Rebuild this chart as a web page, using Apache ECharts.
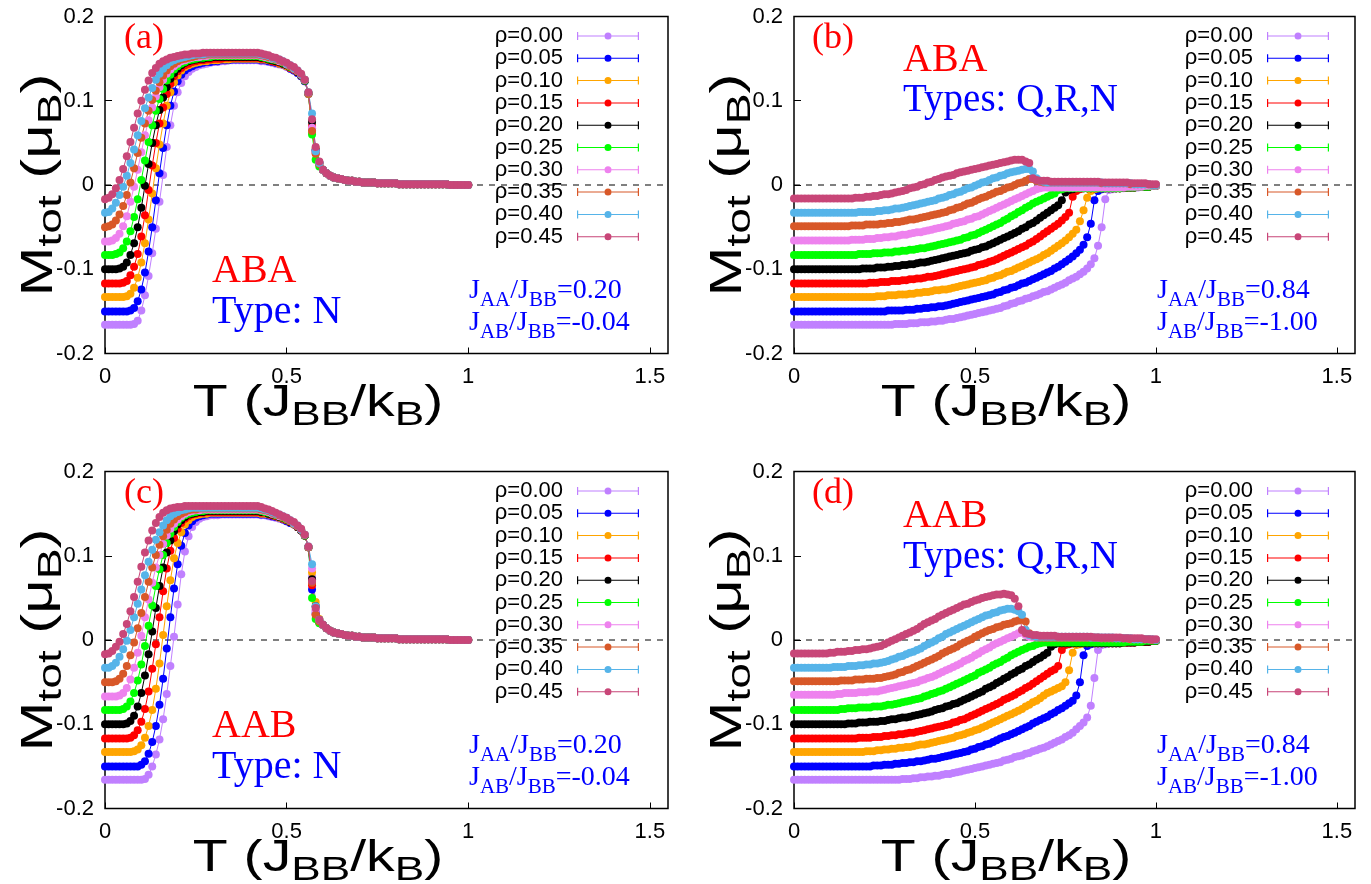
<!DOCTYPE html>
<html><head><meta charset="utf-8">
<script src="https://cdn.jsdelivr.net/npm/echarts@6/dist/echarts.min.js"></script>
<style>html,body{margin:0;padding:0;background:#fff}#c{width:1371px;height:884px}</style>
</head><body><div id="c"></div>
<script>
// ---- temperature grid T (J_BB/k_B) ----
const T = [
0,.01,.02,.03,.04,.05,.06,.07,.08,.09,
.10,.11,.12,.13,.14,.15,.16,.17,.18,.19,
.20,.21,.22,.23,.24,.25,.26,.27,.28,.29,
.30,.31,.32,.33,.34,.35,.36,.37,.38,.39,
.40,.41,.42,.43,.44,.45,.46,.47,.48,.49,
.50,.51,.52,.53,.54,.55,.56,.57,.58,.59,
.60,.61,.62,.63,.64,.65,.66,.67,.68,.69,
.70,.71,.72,.73,.74,.75,.76,.77,.78,.79,
.80,.81,.82,.83,.84,.85,.86,.87,.88,.89,
.90,.91,.92,.93,.94,.95,.96,.97,.98,.99,
1.00];
const rhoNames = ['ρ=0.00','ρ=0.05','ρ=0.10','ρ=0.15','ρ=0.20','ρ=0.25','ρ=0.30','ρ=0.35','ρ=0.40','ρ=0.45'];
const rhoColors = ['#c080ff','#0000ff','#ffa500','#ff0000','#000000','#00ff00','#ee82ee','#d85828','#56b4e9','#c84678'];
const xTicks = [0, 0.5, 1, 1.5];
const yTicks = [-0.2, -0.1, 0, 0.1, 0.2];

// ---- panel (a): ABA, Type N, T = 0.00 .. 0.59 ----
const a00 = [-.166,-.166,-.166,-.166,-.166,-.166,-.166,-.166,-.165,-.161,
-.149,-.131,-.108,-.081,-.052,-.020,.012,.045,.071,.094,
.110,.121,.129,.134,.138,.140,.142,.143,.144,.145,
.146,.146,.147,.147,.148,.148,.148,.148,.148,.148,
.148,.148,.148,.147,.147,.146,.145,.144,.143,.142,
.140,.138,.136,.133,.129,.123,.108,.065,.040,.026];
const a05 = [-.150,-.150,-.150,-.150,-.150,-.150,-.150,-.149,-.146,-.138,
-.124,-.104,-.079,-.050,-.018,.014,.044,.071,.094,.111,
.123,.131,.136,.139,.141,.143,.144,.145,.146,.146,
.147,.147,.148,.148,.148,.149,.149,.149,.149,.149,
.149,.149,.149,.148,.148,.147,.146,.145,.144,.143,
.141,.138,.136,.133,.129,.123,.108,.067,.042,.027];
const a10 = [-.133,-.133,-.133,-.133,-.133,-.133,-.132,-.129,-.122,-.110,
-.092,-.069,-.041,-.010,.020,.048,.073,.094,.110,.122,
.130,.136,.140,.142,.144,.145,.146,.147,.147,.148,
.148,.148,.149,.149,.149,.150,.150,.150,.150,.150,
.150,.150,.150,.149,.149,.148,.147,.146,.144,.143,
.141,.139,.137,.134,.130,.124,.108,.062,.044,.027];
const a15 = [-.117,-.117,-.117,-.117,-.117,-.116,-.114,-.107,-.097,-.082,
-.061,-.036,-.006,.023,.050,.073,.092,.108,.120,.129,
.135,.139,.142,.144,.146,.147,.148,.148,.149,.149,
.150,.150,.150,.151,.151,.151,.151,.151,.151,.151,
.151,.151,.151,.150,.150,.149,.147,.146,.145,.144,
.142,.139,.137,.134,.130,.124,.109,.070,.038,.025];
const a20 = [-.100,-.100,-.100,-.100,-.099,-.097,-.092,-.083,-.069,-.050,
-.027,-.001,.025,.050,.071,.089,.104,.116,.126,.133,
.138,.142,.145,.147,.148,.149,.150,.150,.151,.151,
.152,.152,.152,.152,.152,.152,.152,.152,.152,.152,
.152,.152,.152,.151,.151,.149,.148,.147,.146,.144,
.142,.140,.138,.134,.130,.124,.109,.075,.041,.026];
const a25 = [-.083,-.083,-.083,-.082,-.080,-.075,-.067,-.055,-.038,-.017,
.006,.029,.051,.071,.088,.102,.114,.124,.131,.137,
.141,.144,.146,.148,.149,.150,.151,.151,.152,.152,
.153,.153,.153,.153,.153,.153,.153,.153,.153,.153,
.153,.153,.153,.152,.151,.150,.149,.148,.147,.145,
.143,.140,.138,.135,.131,.124,.109,.060,.030,.022];
const a30 = [-.067,-.067,-.066,-.063,-.058,-.049,-.037,-.020,-.002,.018,
.039,.059,.077,.092,.105,.116,.125,.132,.137,.141,
.144,.147,.148,.150,.151,.152,.152,.153,.153,.154,
.154,.154,.154,.154,.154,.154,.154,.154,.154,.154,
.154,.154,.154,.153,.152,.151,.150,.149,.147,.146,
.143,.141,.138,.135,.131,.125,.109,.068,.040,.026];
const a35 = [-.050,-.049,-.047,-.042,-.035,-.025,-.012,.003,.020,.038,
.056,.073,.088,.101,.112,.122,.130,.136,.141,.144,
.147,.149,.150,.151,.152,.153,.154,.154,.155,.155,
.155,.155,.155,.155,.155,.155,.155,.155,.155,.155,
.155,.155,.155,.154,.153,.152,.151,.149,.148,.146,
.144,.141,.139,.135,.131,.125,.109,.064,.037,.025];
const a40 = [-.033,-.032,-.028,-.021,-.012,-.002,.011,.026,.042,.059,
.076,.091,.104,.115,.125,.132,.138,.142,.146,.148,
.150,.151,.152,.153,.154,.155,.155,.155,.156,.156,
.156,.156,.156,.156,.156,.156,.156,.156,.156,.156,
.156,.156,.156,.155,.154,.153,.151,.150,.149,.147,
.144,.142,.139,.136,.131,.125,.110,.085,.040,.026];
const a45 = [-.017,-.015,-.011,-.004,.006,.019,.034,.051,.068,.085,
.100,.113,.124,.133,.139,.144,.147,.149,.151,.152,
.153,.154,.155,.155,.156,.156,.156,.157,.157,.157,
.157,.157,.157,.157,.157,.157,.157,.157,.157,.157,
.157,.157,.157,.156,.155,.154,.152,.151,.149,.147,
.145,.142,.140,.136,.132,.125,.110,.078,.045,.028];
// common high-T tail of panels (a) and (c), T = 0.60 .. 1.00
const tailN = [.018,.014,.011,.009,.008,.007,.006,.005,.005,.004,
.004,.003,.003,.003,.003,.002,.002,.002,.002,.002,
.002,.001,.001,.001,.001,.001,.001,.001,.001,.001,
.001,.001,.001,.001,.001,.000,.000,.000,.000,.000,
.000];

// ---- panel (c): AAB, Type N, T = 0.00 .. 0.59 ----
const c00 = [-.166,-.166,-.166,-.166,-.166,-.166,-.166,-.166,-.166,-.166,
-.166,-.165,-.160,-.150,-.136,-.118,-.094,-.064,-.031,.004,
.042,.078,.105,.123,.134,.140,.144,.146,.147,.148,
.148,.148,.149,.149,.149,.149,.149,.149,.149,.149,
.149,.149,.149,.148,.148,.147,.146,.145,.144,.143,
.141,.139,.137,.134,.130,.124,.110,.075,.035,.022];
const c05 = [-.150,-.150,-.150,-.150,-.150,-.150,-.150,-.150,-.150,-.150,
-.148,-.144,-.135,-.121,-.102,-.077,-.046,-.010,.027,.061,
.090,.112,.127,.136,.141,.145,.147,.148,.149,.150,
.150,.150,.150,.150,.150,.150,.150,.150,.150,.150,
.150,.150,.150,.149,.149,.148,.147,.146,.145,.143,
.141,.139,.137,.134,.130,.124,.110,.060,.032,.021];
const c10 = [-.133,-.133,-.133,-.133,-.133,-.133,-.133,-.133,-.132,-.130,
-.125,-.116,-.102,-.083,-.058,-.028,.006,.040,.071,.097,
.115,.128,.137,.142,.146,.148,.149,.150,.150,.151,
.151,.151,.151,.151,.151,.151,.151,.151,.151,.151,
.151,.151,.151,.150,.150,.149,.148,.147,.145,.144,
.142,.140,.137,.134,.130,.124,.110,.080,.045,.025];
const c15 = [-.117,-.117,-.117,-.117,-.117,-.117,-.117,-.116,-.113,-.107,
-.097,-.082,-.061,-.034,-.005,.027,.058,.085,.106,.121,
.132,.139,.144,.147,.149,.150,.151,.151,.152,.152,
.152,.152,.152,.152,.152,.152,.152,.152,.152,.152,
.152,.152,.152,.151,.151,.150,.148,.147,.146,.144,
.142,.140,.138,.134,.130,.124,.110,.065,.030,.021];
const c20 = [-.100,-.100,-.100,-.100,-.100,-.100,-.099,-.096,-.090,-.079,
-.063,-.042,-.017,.010,.038,.064,.086,.104,.118,.129,
.137,.142,.146,.149,.150,.151,.152,.152,.153,.153,
.153,.153,.153,.153,.153,.153,.153,.153,.153,.153,
.153,.153,.153,.152,.152,.150,.149,.148,.146,.145,
.143,.140,.138,.134,.130,.124,.110,.072,.040,.024];
const c25 = [-.083,-.083,-.083,-.083,-.083,-.082,-.079,-.073,-.063,-.048,
-.029,-.007,.017,.041,.064,.084,.101,.115,.126,.134,
.140,.145,.148,.150,.151,.152,.153,.153,.154,.154,
.154,.154,.154,.154,.154,.154,.154,.154,.154,.154,
.154,.154,.154,.153,.152,.151,.150,.148,.147,.145,
.143,.141,.138,.135,.131,.124,.110,.050,.025,.020];
const c30 = [-.067,-.067,-.067,-.067,-.066,-.063,-.057,-.047,-.033,-.015,
.005,.027,.048,.068,.086,.101,.114,.124,.132,.138,
.143,.147,.150,.152,.153,.154,.154,.155,.155,.155,
.155,.155,.155,.155,.155,.155,.155,.155,.155,.155,
.155,.155,.155,.154,.153,.152,.150,.149,.147,.146,
.144,.141,.138,.135,.131,.125,.110,.085,.035,.023];
const c35 = [-.050,-.050,-.050,-.049,-.046,-.040,-.031,-.018,-.003,.014,
.032,.051,.069,.086,.101,.113,.123,.131,.138,.143,
.147,.150,.152,.154,.155,.155,.156,.156,.156,.156,
.156,.156,.156,.156,.156,.156,.156,.156,.156,.156,
.156,.156,.156,.155,.154,.153,.151,.149,.148,.146,
.144,.141,.139,.135,.131,.125,.110,.068,.030,.022];
const c40 = [-.033,-.033,-.031,-.027,-.020,-.011,-.001,.012,.027,.043,
.060,.077,.093,.107,.119,.128,.136,.142,.147,.150,
.152,.154,.155,.156,.157,.157,.157,.157,.157,.157,
.157,.157,.157,.157,.157,.157,.157,.157,.157,.157,
.157,.157,.157,.156,.155,.154,.152,.150,.149,.147,
.145,.142,.139,.136,.131,.125,.111,.090,.040,.024];
const c45 = [-.017,-.016,-.013,-.008,-.002,.007,.019,.034,.051,.069,
.087,.104,.118,.130,.139,.146,.151,.154,.156,.157,
.158,.158,.159,.159,.159,.159,.159,.159,.159,.159,
.159,.159,.159,.159,.159,.159,.159,.159,.159,.159,
.159,.159,.159,.158,.156,.155,.153,.151,.149,.147,
.145,.142,.140,.136,.132,.125,.111,.070,.038,.024];

// ---- panel (b): ABA, Types Q,R,N, T = 0.00 .. 1.00 ----
const b00 = [-.166,-.166,-.166,-.166,-.166,-.166,-.166,-.166,-.166,-.166,
-.166,-.166,-.166,-.166,-.166,-.166,-.166,-.166,-.166,-.166,
-.166,-.166,-.166,-.166,-.166,-.166,-.166,-.166,-.165,-.165,
-.165,-.165,-.164,-.164,-.164,-.163,-.163,-.163,-.162,-.162,
-.161,-.161,-.160,-.159,-.159,-.158,-.157,-.156,-.155,-.154,
-.153,-.152,-.151,-.150,-.149,-.148,-.147,-.146,-.144,-.143,
-.141,-.140,-.138,-.137,-.135,-.134,-.132,-.131,-.129,-.127,
-.126,-.124,-.122,-.120,-.118,-.116,-.113,-.111,-.109,-.106,
-.103,-.099,-.094,-.087,-.072,-.050,-.017,-.006,-.005,-.004,
-.004,-.004,-.003,-.003,-.003,-.003,-.002,-.002,-.002,-.001,
-.001];
const b05 = [-.150,-.150,-.150,-.150,-.150,-.150,-.150,-.150,-.150,-.150,
-.150,-.150,-.150,-.150,-.150,-.150,-.150,-.150,-.150,-.150,
-.150,-.150,-.150,-.150,-.150,-.150,-.149,-.149,-.149,-.149,
-.149,-.148,-.148,-.148,-.147,-.147,-.146,-.146,-.145,-.145,
-.144,-.144,-.143,-.142,-.141,-.140,-.139,-.138,-.137,-.136,
-.135,-.134,-.133,-.132,-.131,-.130,-.128,-.127,-.125,-.124,
-.122,-.121,-.119,-.117,-.116,-.114,-.112,-.110,-.108,-.106,
-.104,-.102,-.099,-.097,-.094,-.091,-.088,-.085,-.081,-.077,
-.071,-.062,-.046,-.018,-.007,-.005,-.004,-.004,-.004,-.004,
-.004,-.003,-.003,-.003,-.003,-.002,-.002,-.002,-.002,-.001,
-.001];
const b10 = [-.133,-.133,-.133,-.133,-.133,-.133,-.133,-.133,-.133,-.133,
-.133,-.133,-.133,-.133,-.133,-.133,-.133,-.133,-.133,-.133,
-.133,-.133,-.133,-.132,-.132,-.132,-.131,-.131,-.131,-.130,
-.130,-.130,-.129,-.129,-.128,-.128,-.127,-.127,-.126,-.125,
-.125,-.124,-.124,-.123,-.122,-.121,-.120,-.119,-.118,-.117,
-.116,-.115,-.114,-.113,-.111,-.110,-.108,-.107,-.105,-.103,
-.102,-.100,-.098,-.096,-.094,-.092,-.090,-.088,-.086,-.083,
-.081,-.078,-.075,-.072,-.069,-.066,-.062,-.058,-.053,-.043,
-.030,-.015,-.007,-.005,-.004,-.004,-.004,-.004,-.004,-.004,
-.004,-.003,-.003,-.003,-.003,-.002,-.002,-.002,-.002,-.001,
-.001];
const b15 = [-.117,-.117,-.117,-.117,-.117,-.117,-.117,-.117,-.117,-.117,
-.117,-.117,-.117,-.117,-.117,-.117,-.117,-.117,-.117,-.117,
-.117,-.116,-.116,-.116,-.115,-.115,-.115,-.114,-.114,-.114,
-.113,-.113,-.112,-.112,-.111,-.111,-.110,-.109,-.109,-.108,
-.107,-.106,-.105,-.104,-.103,-.102,-.101,-.100,-.099,-.098,
-.097,-.095,-.094,-.093,-.091,-.090,-.088,-.086,-.084,-.082,
-.080,-.078,-.076,-.074,-.072,-.069,-.067,-.064,-.061,-.058,
-.055,-.052,-.049,-.046,-.042,-.038,-.033,-.014,-.007,-.005,
-.004,-.004,-.004,-.004,-.004,-.004,-.004,-.004,-.004,-.004,
-.004,-.003,-.003,-.003,-.003,-.002,-.002,-.002,-.002,-.001,
-.001];
const b20 = [-.100,-.100,-.100,-.100,-.100,-.100,-.100,-.100,-.100,-.100,
-.100,-.100,-.100,-.100,-.100,-.100,-.100,-.100,-.100,-.099,
-.099,-.099,-.099,-.098,-.098,-.098,-.097,-.097,-.096,-.096,
-.095,-.095,-.094,-.094,-.093,-.092,-.092,-.091,-.090,-.089,
-.088,-.087,-.086,-.085,-.084,-.083,-.082,-.081,-.080,-.078,
-.077,-.076,-.074,-.073,-.071,-.069,-.067,-.065,-.063,-.061,
-.059,-.057,-.055,-.052,-.050,-.047,-.045,-.042,-.039,-.036,
-.033,-.030,-.027,-.024,-.018,-.009,-.006,-.005,-.004,-.004,
-.004,-.004,-.004,-.004,-.004,-.004,-.004,-.004,-.004,-.004,
-.004,-.003,-.003,-.003,-.003,-.002,-.002,-.002,-.002,-.001,
-.001];
const b25 = [-.083,-.083,-.083,-.083,-.083,-.083,-.083,-.083,-.083,-.083,
-.083,-.083,-.083,-.083,-.083,-.083,-.083,-.083,-.082,-.082,
-.082,-.082,-.081,-.081,-.081,-.080,-.080,-.080,-.079,-.079,
-.078,-.078,-.077,-.077,-.076,-.075,-.075,-.074,-.073,-.072,
-.071,-.070,-.069,-.068,-.067,-.066,-.065,-.063,-.062,-.060,
-.059,-.057,-.055,-.053,-.051,-.049,-.047,-.045,-.042,-.040,
-.037,-.035,-.032,-.030,-.027,-.025,-.022,-.020,-.018,-.016,
-.014,-.012,-.010,-.006,-.005,-.004,-.004,-.004,-.004,-.004,
-.004,-.004,-.004,-.004,-.004,-.004,-.004,-.004,-.004,-.004,
-.004,-.003,-.003,-.003,-.003,-.002,-.002,-.002,-.002,-.001,
-.001];
const b30 = [-.066,-.066,-.066,-.066,-.066,-.066,-.066,-.066,-.066,-.066,
-.066,-.066,-.066,-.066,-.066,-.066,-.065,-.065,-.065,-.065,
-.064,-.064,-.064,-.063,-.063,-.062,-.062,-.061,-.061,-.060,
-.059,-.059,-.058,-.057,-.056,-.056,-.055,-.054,-.053,-.052,
-.051,-.050,-.049,-.048,-.046,-.045,-.044,-.043,-.041,-.040,
-.038,-.037,-.035,-.033,-.031,-.029,-.027,-.025,-.023,-.021,
-.019,-.017,-.015,-.013,-.011,-.009,-.007,-.005,-.004,-.003,
-.003,-.003,-.003,-.003,-.003,-.003,-.003,-.003,-.003,-.003,
-.003,-.003,-.003,-.003,-.003,-.003,-.003,-.003,-.003,-.003,
-.003,-.003,-.002,-.002,-.002,-.002,-.002,-.001,-.001,-.001,
-.001];
const b35 = [-.049,-.049,-.049,-.049,-.049,-.049,-.049,-.049,-.049,-.049,
-.049,-.049,-.049,-.049,-.049,-.049,-.048,-.048,-.048,-.048,
-.047,-.047,-.047,-.047,-.046,-.046,-.045,-.045,-.044,-.044,
-.043,-.042,-.041,-.041,-.040,-.039,-.038,-.037,-.036,-.035,
-.034,-.033,-.032,-.030,-.029,-.027,-.026,-.024,-.022,-.021,
-.019,-.017,-.015,-.014,-.012,-.010,-.008,-.007,-.005,-.003,
-.002,.000,.002,.003,.005,.007,.007,.005,.004,.003,
.003,.003,.003,.003,.003,.003,.003,.003,.003,.003,
.003,.003,.003,.003,.003,.002,.002,.002,.002,.002,
.002,.002,.002,.001,.001,.001,.001,.001,.001,.000,
.000];
const b40 = [-.033,-.033,-.033,-.033,-.033,-.033,-.033,-.033,-.033,-.033,
-.033,-.033,-.033,-.033,-.033,-.033,-.033,-.033,-.032,-.032,
-.032,-.032,-.032,-.031,-.031,-.030,-.030,-.029,-.028,-.028,
-.027,-.026,-.025,-.024,-.023,-.022,-.021,-.020,-.019,-.018,
-.016,-.015,-.014,-.012,-.011,-.009,-.008,-.006,-.004,-.003,
-.001,.001,.003,.004,.006,.008,.009,.011,.012,.014,
.015,.016,.017,.018,.019,.019,.016,.008,.005,.004,
.003,.003,.003,.003,.003,.003,.003,.003,.003,.003,
.003,.003,.003,.003,.003,.003,.002,.002,.002,.002,
.002,.002,.002,.002,.001,.001,.001,.001,.001,.000,
.000];
const b45 = [-.016,-.016,-.016,-.016,-.016,-.016,-.016,-.016,-.016,-.016,
-.016,-.016,-.016,-.016,-.016,-.016,-.016,-.015,-.015,-.015,
-.014,-.014,-.013,-.013,-.012,-.011,-.011,-.010,-.009,-.008,
-.007,-.006,-.004,-.003,-.002,.000,.001,.003,.004,.006,
.007,.009,.010,.011,.012,.014,.015,.016,.017,.018,
.019,.020,.021,.022,.023,.024,.025,.026,.027,.028,
.029,.030,.030,.030,.028,.026,.008,.006,.005,.005,
.005,.004,.004,.004,.004,.004,.004,.004,.004,.004,
.004,.004,.004,.004,.004,.003,.003,.003,.003,.003,
.003,.003,.003,.002,.002,.002,.002,.002,.001,.001,
.001];

// ---- panel (d): AAB, Types Q,R,N, T = 0.00 .. 1.00 ----
const d00 = [-.166,-.166,-.166,-.166,-.166,-.166,-.166,-.166,-.166,-.166,
-.166,-.166,-.166,-.166,-.166,-.166,-.166,-.166,-.166,-.166,
-.166,-.166,-.166,-.166,-.166,-.166,-.166,-.166,-.166,-.166,
-.165,-.165,-.165,-.164,-.164,-.163,-.163,-.162,-.162,-.161,
-.161,-.160,-.159,-.159,-.158,-.157,-.156,-.155,-.154,-.153,
-.152,-.151,-.150,-.149,-.148,-.147,-.146,-.145,-.143,-.142,
-.141,-.139,-.138,-.137,-.135,-.134,-.132,-.131,-.129,-.128,
-.126,-.124,-.122,-.120,-.118,-.115,-.113,-.110,-.106,-.102,
-.098,-.092,-.078,-.045,-.012,-.006,-.005,-.004,-.004,-.004,
-.004,-.003,-.003,-.003,-.003,-.002,-.002,-.002,-.002,-.001,
-.001];
const d05 = [-.150,-.150,-.150,-.150,-.150,-.150,-.150,-.150,-.150,-.150,
-.150,-.150,-.150,-.150,-.150,-.150,-.150,-.150,-.150,-.150,
-.150,-.150,-.149,-.149,-.149,-.148,-.148,-.148,-.147,-.147,
-.146,-.146,-.145,-.145,-.144,-.144,-.143,-.142,-.141,-.141,
-.140,-.139,-.138,-.137,-.136,-.135,-.134,-.133,-.132,-.130,
-.129,-.127,-.126,-.124,-.123,-.121,-.119,-.117,-.115,-.114,
-.112,-.110,-.108,-.106,-.104,-.102,-.099,-.097,-.095,-.093,
-.091,-.088,-.086,-.083,-.081,-.078,-.075,-.072,-.066,-.050,
-.018,-.007,-.005,-.004,-.004,-.004,-.004,-.004,-.004,-.004,
-.004,-.003,-.003,-.003,-.003,-.002,-.002,-.002,-.002,-.001,
-.001];
const d10 = [-.133,-.133,-.133,-.133,-.133,-.133,-.133,-.133,-.133,-.133,
-.133,-.133,-.133,-.133,-.133,-.133,-.133,-.133,-.133,-.133,
-.132,-.132,-.132,-.131,-.131,-.130,-.130,-.129,-.129,-.128,
-.128,-.127,-.127,-.126,-.125,-.124,-.124,-.123,-.122,-.121,
-.120,-.119,-.118,-.117,-.116,-.114,-.113,-.112,-.110,-.109,
-.107,-.106,-.104,-.102,-.100,-.098,-.096,-.094,-.092,-.090,
-.088,-.086,-.084,-.082,-.079,-.077,-.074,-.072,-.069,-.066,
-.063,-.061,-.059,-.057,-.055,-.050,-.036,-.015,-.006,-.005,
-.004,-.004,-.004,-.004,-.004,-.004,-.004,-.004,-.004,-.004,
-.004,-.003,-.003,-.003,-.003,-.002,-.002,-.002,-.002,-.001,
-.001];
const d15 = [-.117,-.117,-.117,-.117,-.117,-.117,-.117,-.117,-.117,-.117,
-.117,-.117,-.117,-.117,-.117,-.117,-.117,-.117,-.116,-.116,
-.116,-.116,-.115,-.115,-.115,-.114,-.114,-.113,-.113,-.112,
-.112,-.111,-.110,-.110,-.109,-.108,-.107,-.106,-.105,-.104,
-.103,-.102,-.101,-.100,-.098,-.097,-.095,-.094,-.092,-.090,
-.088,-.086,-.084,-.082,-.080,-.078,-.076,-.074,-.071,-.069,
-.067,-.065,-.062,-.060,-.057,-.055,-.052,-.049,-.046,-.043,
-.040,-.037,-.035,-.031,-.012,-.006,-.005,-.004,-.004,-.004,
-.004,-.004,-.004,-.004,-.004,-.004,-.004,-.004,-.004,-.004,
-.004,-.003,-.003,-.003,-.003,-.002,-.002,-.002,-.002,-.001,
-.001];
const d20 = [-.100,-.100,-.100,-.100,-.100,-.100,-.100,-.100,-.100,-.100,
-.100,-.100,-.100,-.100,-.100,-.099,-.099,-.099,-.098,-.098,
-.098,-.097,-.097,-.097,-.096,-.096,-.095,-.094,-.094,-.093,
-.092,-.092,-.091,-.090,-.089,-.088,-.087,-.086,-.085,-.083,
-.082,-.081,-.079,-.078,-.076,-.075,-.073,-.071,-.069,-.067,
-.065,-.063,-.061,-.058,-.056,-.054,-.051,-.049,-.046,-.044,
-.041,-.039,-.036,-.034,-.031,-.029,-.026,-.023,-.021,-.018,
-.015,-.008,-.005,-.004,-.004,-.004,-.004,-.004,-.004,-.004,
-.004,-.004,-.004,-.004,-.004,-.004,-.004,-.004,-.004,-.004,
-.004,-.003,-.003,-.003,-.003,-.002,-.002,-.002,-.002,-.001,
-.001];
const d25 = [-.083,-.083,-.083,-.083,-.083,-.083,-.083,-.083,-.083,-.083,
-.083,-.083,-.083,-.082,-.082,-.081,-.081,-.081,-.080,-.080,
-.080,-.080,-.079,-.079,-.079,-.078,-.077,-.077,-.076,-.075,
-.074,-.073,-.072,-.071,-.070,-.069,-.067,-.066,-.064,-.063,
-.061,-.060,-.058,-.056,-.054,-.052,-.050,-.048,-.046,-.044,
-.042,-.039,-.037,-.035,-.033,-.030,-.028,-.026,-.023,-.021,
-.018,-.016,-.014,-.012,-.010,-.008,-.007,-.005,-.004,-.003,
-.003,-.003,-.003,-.003,-.003,-.003,-.003,-.003,-.003,-.003,
-.003,-.003,-.003,-.003,-.003,-.003,-.003,-.003,-.003,-.003,
-.003,-.003,-.002,-.002,-.002,-.002,-.002,-.001,-.001,-.001,
-.001];
const d30 = [-.065,-.065,-.065,-.065,-.065,-.065,-.065,-.065,-.065,-.065,
-.065,-.065,-.064,-.064,-.063,-.063,-.063,-.063,-.062,-.062,
-.062,-.061,-.061,-.061,-.060,-.059,-.058,-.057,-.056,-.055,
-.054,-.053,-.052,-.051,-.050,-.048,-.047,-.045,-.044,-.042,
-.040,-.038,-.036,-.034,-.032,-.030,-.028,-.025,-.023,-.021,
-.018,-.016,-.013,-.011,-.009,-.006,-.004,-.002,.000,.002,
.004,.006,.008,.009,.006,.004,.003,.003,.003,.003,
.003,.003,.003,.003,.003,.003,.003,.003,.003,.003,
.003,.003,.003,.003,.003,.002,.002,.002,.002,.002,
.002,.002,.002,.001,.001,.001,.001,.001,.001,.000,
.000];
const d35 = [-.049,-.049,-.049,-.049,-.049,-.049,-.049,-.049,-.049,-.049,
-.049,-.049,-.049,-.048,-.048,-.048,-.048,-.047,-.047,-.047,
-.046,-.046,-.046,-.045,-.045,-.044,-.043,-.042,-.041,-.039,
-.038,-.036,-.035,-.033,-.031,-.029,-.027,-.025,-.023,-.021,
-.019,-.016,-.014,-.012,-.010,-.008,-.005,-.003,-.001,.001,
.004,.006,.008,.010,.012,.013,.015,.016,.018,.019,
.020,.022,.023,.024,.022,.008,.005,.004,.003,.003,
.003,.003,.003,.003,.003,.003,.003,.003,.003,.003,
.003,.003,.003,.003,.003,.002,.002,.002,.002,.002,
.002,.002,.002,.001,.001,.001,.001,.001,.001,.000,
.000];
const d40 = [-.033,-.033,-.033,-.033,-.033,-.033,-.033,-.033,-.033,-.033,
-.033,-.032,-.032,-.032,-.032,-.031,-.031,-.031,-.030,-.030,
-.029,-.029,-.028,-.028,-.027,-.026,-.025,-.023,-.022,-.020,
-.019,-.017,-.015,-.014,-.012,-.010,-.007,-.005,-.003,-.001,
.002,.004,.007,.009,.011,.013,.015,.017,.019,.021,
.023,.025,.027,.029,.030,.032,.033,.035,.036,.037,
.037,.036,.034,.030,.012,.006,.005,.004,.004,.004,
.004,.004,.004,.004,.004,.004,.004,.004,.004,.004,
.004,.004,.003,.003,.003,.003,.003,.003,.003,.002,
.002,.002,.002,.002,.001,.001,.001,.001,.001,.001,
.000];
const d45 = [-.016,-.016,-.016,-.016,-.016,-.016,-.016,-.016,-.016,-.016,
-.015,-.015,-.014,-.014,-.014,-.013,-.013,-.012,-.012,-.011,
-.011,-.010,-.009,-.008,-.007,-.005,-.003,-.001,.001,.003,
.005,.007,.009,.011,.013,.016,.019,.021,.023,.025,
.028,.030,.032,.034,.036,.038,.040,.042,.043,.045,
.047,.048,.050,.051,.052,.053,.054,.054,.055,.054,
.053,.049,.040,.012,.008,.007,.006,.006,.005,.005,
.005,.005,.005,.004,.004,.004,.004,.004,.004,.004,
.004,.004,.004,.003,.003,.003,.003,.003,.003,.003,
.003,.002,.002,.002,.002,.002,.002,.001,.001,.001,
.001];

const SANS = 'Liberation Sans, Arial, Helvetica, sans-serif';
const SERIF = 'Liberation Serif, Times New Roman, serif';

const panels = [
  {left:105, top:16.5, width:563, height:337, legRight:732, legTop:25,
   vals:[a00,a05,a10,a15,a20,a25,a30,a35,a40,a45].map(v=>v.concat(tailN))},
  {left:794, top:16.5, width:561, height:337, legRight:42, legTop:25,
   vals:[b00,b05,b10,b15,b20,b25,b30,b35,b40,b45]},
  {left:105, top:471.5, width:563, height:337, legRight:732, legTop:480,
   vals:[c00,c05,c10,c15,c20,c25,c30,c35,c40,c45].map(v=>v.concat(tailN))},
  {left:794, top:471.5, width:561, height:337, legRight:42, legTop:480,
   vals:[d00,d05,d10,d15,d20,d25,d30,d35,d40,d45]}
];

let bad = [];
panels.forEach((p,pi)=>p.vals.forEach((v,si)=>{ if (v.length !== T.length) bad.push('p'+pi+'s'+si+':'+v.length); }));

const ICON = 'path://M0 0H1.2V8H0Z M1.2 3.5H27.5V4.5H1.2Z M27.5 4A3.5 3.5 0 1 1 34.5 4A3.5 3.5 0 1 1 27.5 4Z M34.5 3.5H60.8V4.5H34.5Z M60.8 0H62V8H60.8Z';

const series = [];
panels.forEach((p, pi) => {
  series.push({
    type:'line', xAxisIndex:pi, yAxisIndex:pi, data:[[0,0],[1.55,0]],
    symbol:'none', silent:true, z:1, lineStyle:{color:'#000', width:1, type:[6,6]}
  });
  p.vals.forEach((v, si) => {
    series.push({
      type:'line', name:rhoNames[si], xAxisIndex:pi, yAxisIndex:pi,
      data: T.map((t,i)=>[t, v[i]]),
      symbol:'circle', symbolSize:8, showSymbol:true, silent:true, z:2,
      color: rhoColors[si],
      itemStyle:{color:rhoColors[si]},
      lineStyle:{color:rhoColors[si], width:1},
      emphasis:{disabled:true}
    });
  });
});

function plain(x, y, text, size, color, fam) {
  return {type:'text', x, y, silent:true, z:50,
    style:{text, fill:color, fontSize:size, fontFamily:fam, align:'left', verticalAlign:'middle'}};
}
function jLine(x, y, sub, val) {
  return {type:'text', x, y, silent:true, z:50,
    style:{text:'{m|J}{s|'+sub+'}{m|/J}{s|BB}{m|='+val+'}', align:'left', verticalAlign:'top',
      rich:{
        m:{fontSize:28, fontFamily:SERIF, fill:'#0000ff', lineHeight:28, verticalAlign:'top'},
        s:{fontSize:21, fontFamily:SERIF, fill:'#0000ff', lineHeight:21, padding:[13,0,0,0], verticalAlign:'top'}
      }}};
}
function axTitle(x, y, text, rot, sx) {
  return {type:'text', x, y, rotation: rot ? Math.PI/2 : 0, scaleX:sx, scaleY:1, silent:true, z:50,
    style:{text, align:'center', verticalAlign:'middle',
      rich:{
        m:{fontSize:44, fontFamily:SANS, fill:'#000', lineHeight:44, verticalAlign:'top'},
        s:{fontSize:34, fontFamily:SANS, fill:'#000', lineHeight:34, padding:[17,0,0,0], verticalAlign:'top'}
      }}};
}
const yTitle = '{m|M}{s|tot}{m| (μ}{s|B}{m|)}';
const xTitle = '{m|T (J}{s|BB}{m|/k}{s|B}{m|)}';

const graphic = [
  plain(124, 39, '(a)', 36, '#ff0000', SERIF),
  plain(212, 271, 'ABA', 40, '#ff0000', SERIF),
  plain(212, 312, 'Type: N', 40, '#0000ff', SERIF),
  jLine(469, 277, 'AA', '0.20'), jLine(469, 309, 'AB', '-0.04'),

  plain(812, 39, '(b)', 36, '#ff0000', SERIF),
  plain(903, 60, 'ABA', 40, '#ff0000', SERIF),
  plain(903, 101, 'Types: Q,R,N', 39, '#0000ff', SERIF),
  jLine(1157, 277, 'AA', '0.84'), jLine(1157, 309, 'AB', '-1.00'),

  plain(124, 494, '(c)', 36, '#ff0000', SERIF),
  plain(212, 726, 'AAB', 40, '#ff0000', SERIF),
  plain(212, 767, 'Type: N', 40, '#0000ff', SERIF),
  jLine(469, 732, 'AA', '0.20'), jLine(469, 764, 'AB', '-0.04'),

  plain(812, 494, '(d)', 36, '#ff0000', SERIF),
  plain(903, 516, 'AAB', 40, '#ff0000', SERIF),
  plain(903, 558, 'Types: Q,R,N', 39, '#0000ff', SERIF),
  jLine(1157, 732, 'AA', '0.84'), jLine(1157, 764, 'AB', '-1.00'),

  axTitle(40, 185, yTitle, true, 1.36), axTitle(729, 185, yTitle, true, 1.36),
  axTitle(40, 640, yTitle, true, 1.36), axTitle(729, 640, yTitle, true, 1.36),
  axTitle(318, 403.5, xTitle, false, 1.3), axTitle(1006, 403.5, xTitle, false, 1.3),
  axTitle(318, 858.5, xTitle, false, 1.3), axTitle(1006, 858.5, xTitle, false, 1.3)
];
if (bad.length) graphic.push(plain(400, 440, 'LENGTH MISMATCH ' + bad.join(' '), 16, '#f00', SANS));

const option = {
  animation:false,
  backgroundColor:'#ffffff',
  grid: panels.map(p=>({left:p.left, top:p.top, width:p.width, height:p.height, show:true,
    borderColor:'#000', borderWidth:1.5, backgroundColor:'transparent'})),
  xAxis: panels.map((p,i)=>({gridIndex:i, type:'value', min:0, max:1.55, interval:0.5,
    axisLine:{show:false, onZero:false},
    axisTick:{show:true, inside:true, length:6, lineStyle:{color:'#000', width:1}},
    axisLabel:{show:true, fontSize:22, fontFamily:SANS, color:'#000', margin:12, showMaxLabel:false,
      formatter: v => xTicks.indexOf(Math.round(v*100)/100) >= 0 ? String(Math.round(v*100)/100) : ''},
    splitLine:{show:false}})),
  yAxis: panels.map((p,i)=>({gridIndex:i, type:'value', min:-0.2, max:0.2, interval:0.1,
    axisLine:{show:false, onZero:false},
    axisTick:{show:true, inside:true, length:7, lineStyle:{color:'#000', width:1}},
    axisLabel:{show:true, fontSize:22, fontFamily:SANS, color:'#000', margin:11,
      formatter: v => { const r = Math.round(v*10)/10; return yTicks.indexOf(r) >= 0 ? String(r) : ''; }},
    splitLine:{show:false}})),
  legend: panels.map(p=>({orient:'vertical', align:'right', right:p.legRight, top:p.legTop, padding:0,
    itemWidth:62, itemHeight:8, itemGap:0.3, icon:ICON, selectedMode:false, data:rhoNames,
    textStyle:{fontSize:22, fontFamily:SANS, color:'#000', lineHeight:21, padding:[0,9,0,0]}})),
  series,
  graphic
};
const chart = echarts.init(document.getElementById('c'), null, {renderer:'canvas'});
chart.setOption(option);
</script>
</body></html>
